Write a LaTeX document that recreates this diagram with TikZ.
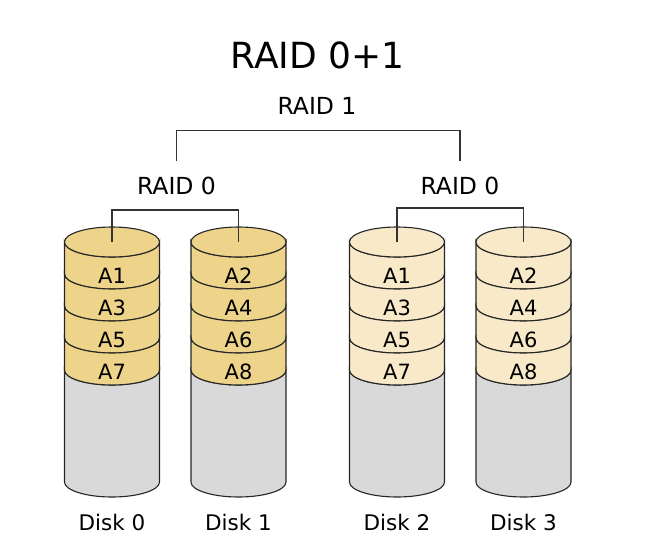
\documentclass[tikz,border=0pt]{standalone}
\usepackage{fontspec}
\setmainfont{DejaVu Sans}
\definecolor{stripeA}{RGB}{238,211,138}
\definecolor{stripeB}{RGB}{248,233,201}
\definecolor{platter}{RGB}{217,217,217}
\begin{document}
\begin{tikzpicture}[x=1pt, y=1pt,
    outline/.style={draw=black!85, line width=1.1pt},
    wire/.style={draw=black!80, line width=1.2pt},
    lbl/.style={inner sep=1pt, font=\fontsize{23.5}{28}\selectfont}]
    \useasboundingbox (0,0) rectangle (646,-560);

    % Disks: centre x / colour / number / first block
    \foreach \cx/\col/\dk/\first in {112/stripeA/0/1, 238.5/stripeA/1/2, 397/stripeB/2/1, 523.5/stripeB/3/2} {
        % grey body
        \filldraw[outline, fill=platter] (\cx-47.5,-370) -- (\cx-47.5,-482)
            arc[start angle=180, end angle=360, x radius=47.5, y radius=15]
            -- (\cx+47.5,-370)
            arc[start angle=0, end angle=-180, x radius=47.5, y radius=15] -- cycle;
        % striped blocks
        \foreach \k in {1,...,4} {
            \pgfmathsetmacro\yt{-242-32*(\k-1)}
            \pgfmathtruncatemacro\blk{2*\k-2+\first}
            \filldraw[outline, fill=\col] (\cx-47.5,\yt) -- (\cx-47.5,\yt-32)
                arc[start angle=180, end angle=360, x radius=47.5, y radius=15]
                -- (\cx+47.5,\yt)
                arc[start angle=0, end angle=-180, x radius=47.5, y radius=15] -- cycle;
            \node[font=\fontsize{21}{25}\selectfont] (blk\dk\k) at (\cx,\yt-33.5) {A\blk};
        }
        % top face
        \filldraw[outline, fill=\col] (\cx,-242) ellipse[x radius=47.5, y radius=15];
        \coordinate (top\dk) at (\cx,-242);
        \node[font=\fontsize{21.5}{26}\selectfont] (disk\dk) at (\cx,-522) {Disk \dk};
    }

    % Labels
    \node[inner sep=1pt, font=\fontsize{36}{43}\selectfont] (title) at (317.5,-55) {RAID 0+1};
    \node[lbl] (r1) at (317,-106) {RAID 1};
    \node[lbl] (r0a) at (176.5,-185.5) {RAID 0};
    \node[lbl] (r0b) at (460,-185.5) {RAID 0};

    % Brackets
    \draw[wire] (top0) -- ++(0,32) -| (top1);
    \draw[wire] (top2) -- ++(0,34) -| (top3);
    \draw[wire] ([yshift=14pt]r0a.north) -- ++(0,31) -| ([yshift=14pt]r0b.north);
\end{tikzpicture}
\end{document}
